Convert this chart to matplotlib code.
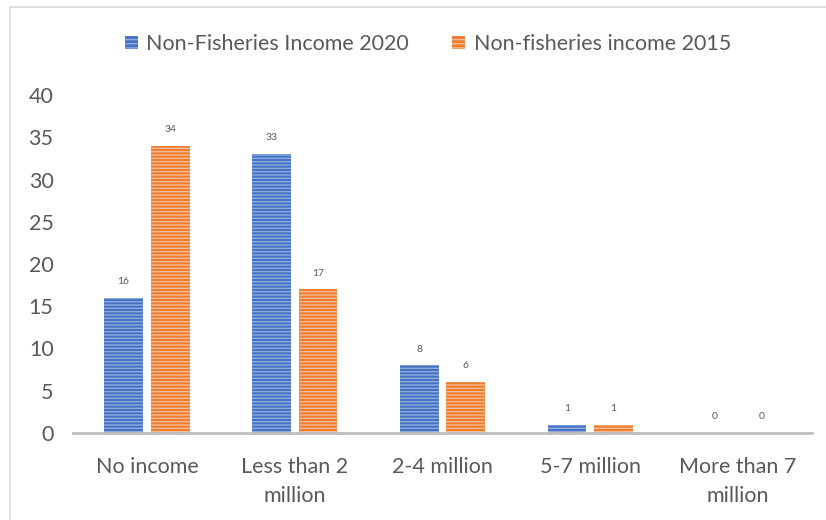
import matplotlib
matplotlib.use("Agg")
import matplotlib.pyplot as plt
import numpy as np
from matplotlib.lines import Line2D

categories = ["No income", "Less than 2\nmillion", "2-4 million", "5-7 million", "More than 7\nmillion"]
income_2020 = [16, 33, 8, 1, 0]
income_2015 = [34, 17, 6, 1, 0]
series_names = ["Non-Fisheries Income 2020", "Non-fisheries income 2015"]
y_ticks = [0, 5, 10, 15, 20, 25, 30, 35, 40]

plt.rcParams["font.family"] = ["Lato", "DejaVu Sans"]
plt.rcParams["hatch.linewidth"] = 1.0

blue = "#4472C4"
orange = "#ED7D31"
blue_hatch = "#8FAADC"
orange_hatch = "#F6B990"
text_col = "#595959"

fig = plt.figure(figsize=(8.26, 5.20), dpi=100)
ax = fig.add_axes([73 / 826, 1 - 433 / 520, (812 - 73) / 826, (433 - 95) / 520])

x = np.arange(len(categories))
w = 0.262
off = 0.158

bars1 = ax.bar(x - off, income_2020, w, color=blue, edgecolor=blue_hatch,
               linewidth=0, hatch="-----")
bars2 = ax.bar(x + off, income_2015, w, color=orange, edgecolor=orange_hatch,
               linewidth=0, hatch="-----")

for bars, vals in ((bars1, income_2020), (bars2, income_2015)):
    for b, v in zip(bars, vals):
        ax.annotate(str(v), (b.get_x() + b.get_width() / 2, v),
                    xytext=(0, 8.5), textcoords="offset points",
                    ha="center", va="bottom", fontsize=7.5, color=text_col)

ax.set_xlim(-0.5, len(categories) - 0.5)
ax.set_ylim(0, 40)
ax.set_yticks(y_ticks)
ax.set_xticks(x)
ax.set_xticklabels(categories, fontsize=15.5, color=text_col, linespacing=1.6)
ax.tick_params(axis="y", labelsize=15.5, labelcolor=text_col, length=0, pad=14)
ax.tick_params(axis="x", length=0, pad=17)

for s in ("top", "right", "left"):
    ax.spines[s].set_visible(False)
ax.spines["bottom"].set_color("#BFBFBF")
ax.spines["bottom"].set_linewidth(2.0)

handles = [
    plt.Rectangle((0, 0), 1, 1, facecolor=blue, edgecolor=blue_hatch, linewidth=0, hatch="----"),
    plt.Rectangle((0, 0), 1, 1, facecolor=orange, edgecolor=orange_hatch, linewidth=0, hatch="----"),
]
fig.legend(handles, series_names, loc="center", bbox_to_anchor=(428 / 826, 1 - 44 / 520),
           ncol=2, frameon=False, fontsize=15.5, labelcolor=text_col,
           handlelength=0.6, handleheight=0.6, handletextpad=0.4, columnspacing=2.0)

# outer chart frame
fig.add_artist(Line2D([9.5 / 826, 1], [1 - 6.5 / 520, 1 - 6.5 / 520],
                      transform=fig.transFigure, color="#D9D9D9", linewidth=1.2))
fig.add_artist(Line2D([9.5 / 826, 9.5 / 826], [0, 1 - 6.5 / 520],
                      transform=fig.transFigure, color="#D9D9D9", linewidth=1.2))

fig.savefig("out.png", dpi=100, facecolor="white")
